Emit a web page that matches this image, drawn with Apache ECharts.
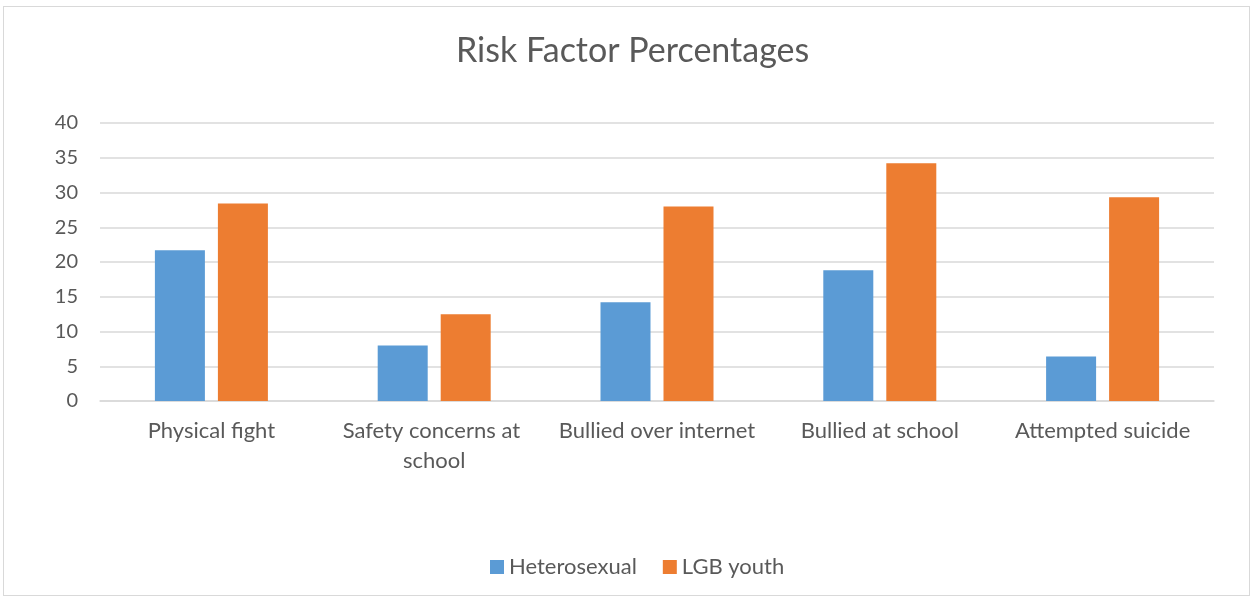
<!DOCTYPE html>
<html>
<head>
<meta charset="utf-8">
<script src="https://cdn.jsdelivr.net/npm/echarts@6/dist/echarts.min.js"></script>
<style>
  html, body { margin: 0; padding: 0; background: #fff; }
  #chart { position: absolute; left: 3px; top: 6px; width: 1247px; height: 590px; border: 1px solid #d9d9d9; box-sizing: border-box; }
</style>
</head>
<body>
<div id="chart"></div>
<script>
// chart data
var categories = ['Physical fight', 'Safety concerns at school', 'Bullied over internet', 'Bullied at school', 'Attempted suicide']
var heterosexual = [21.7, 8.0, 14.2, 18.8, 6.4]
var lgbYouth = [28.4, 12.5, 28.0, 34.2, 29.3]
var yTicks = { min: 0, max: 40, interval: 5 }

var font = 'Lato, "Open Sans", sans-serif'
var myChart = echarts.init(document.getElementById('chart'))
var option = {
  animation: false,
  title: {
    text: 'Risk Factor Percentages',
    left: 447,
    top: 22,
    textStyle: { fontFamily: font, fontSize: 34, fontWeight: 'normal', color: '#595959' }
  },
  legend: {
    bottom: 12,
    left: 481,
    itemWidth: 14,
    itemHeight: 14,
    itemGap: 26,
    icon: 'rect',
    textStyle: { fontFamily: font, fontSize: 22, color: '#595959' },
    data: ['Heterosexual', 'LGB youth']
  },
  grid: { left: 96, right: 35, top: 116, bottom: 194 },
  xAxis: {
    type: 'category',
    data: categories,
    axisLine: { lineStyle: { color: '#d9d9d9', width: 1.5 } },
    axisTick: { show: false },
    axisLabel: {
      fontFamily: font, fontSize: 22, color: '#595959', margin: 15,
      width: 212, overflow: 'break', lineHeight: 30, interval: 0
    }
  },
  yAxis: {
    type: 'value',
    min: yTicks.min,
    max: yTicks.max,
    interval: yTicks.interval,
    axisLine: { show: false },
    axisTick: { show: false },
    splitLine: { lineStyle: { color: '#d9d9d9', width: 1.5 } },
    axisLabel: { fontFamily: font, fontSize: 20, color: '#595959', margin: 22 }
  },
  series: [
    {
      name: 'Heterosexual',
      type: 'bar',
      data: heterosexual,
      barWidth: 50,
      barGap: '26%',
      itemStyle: { color: '#5B9BD5' }
    },
    {
      name: 'LGB youth',
      type: 'bar',
      data: lgbYouth,
      barWidth: 50,
      itemStyle: { color: '#ED7D31' }
    }
  ]
}
myChart.setOption(option)
</script>
</body>
</html>
